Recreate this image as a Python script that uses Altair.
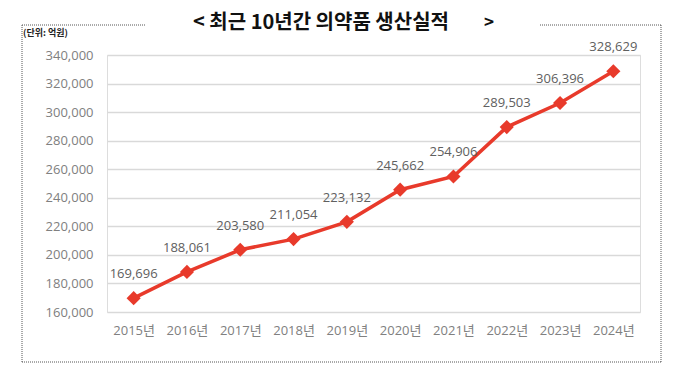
import altair as alt
import pandas as pd

years = ["2015년", "2016년", "2017년", "2018년", "2019년", "2020년", "2021년", "2022년", "2023년", "2024년"]
values = [169696, 188061, 203580, 211054, 223132, 245662, 254906, 289503, 306396, 328629]
y_ticks = [160000, 180000, 200000, 220000, 240000, 260000, 280000, 300000, 320000, 340000]
title_text = "< 최근 10년간 의약품 생산실적"
title_end = ">"
unit_text = "(단위: 억원)"

df = pd.DataFrame({"year": years, "value": values})
df["label"] = df["value"].map(lambda v: f"{v:,}")

FONT = "Noto Sans CJK KR"
NUMFONT = "Open Sans, Noto Sans CJK KR"

x = alt.X("year:N", sort=years, title=None,
          scale=alt.Scale(type="point", padding=0.5),
          axis=alt.Axis(labelAngle=0, domain=False, ticks=False, grid=False,
                        labelFont=NUMFONT, labelFontSize=13, labelColor="#808080",
                        labelPadding=12))
y = alt.Y("value:Q", title=None,
          scale=alt.Scale(domain=[160000, 340000], nice=False, zero=False),
          axis=alt.Axis(values=y_ticks, format=",.0f", domain=False, ticks=False,
                        gridColor="#d9d9d9", gridWidth=1.5,
                        labelFont=NUMFONT, labelFontSize=13, labelColor="#808080",
                        labelPadding=14))

base = alt.Chart(df)
line = base.mark_line(color="#e83a2b", strokeWidth=3.5).encode(x=x, y=y)
pts = base.mark_point(shape="diamond", filled=True, size=200, color="#e83a2b", opacity=1).encode(x=x, y=y)
labels = base.mark_text(dy=-24, font=NUMFONT, fontSize=13, color="#606060").encode(x=x, y=y, text="label:N")

deco = pd.DataFrame({"d": [0]})
dash = [1, 1]
bc = "#555555"
b_left = alt.Chart(deco).mark_rule(strokeDash=dash, color=bc, strokeWidth=1).encode(
    x=alt.value(-85), y=alt.value(-30), y2=alt.value(307))
b_right = alt.Chart(deco).mark_rule(strokeDash=dash, color=bc, strokeWidth=1).encode(
    x=alt.value(554), y=alt.value(-30), y2=alt.value(307))
b_bottom = alt.Chart(deco).mark_rule(strokeDash=dash, color=bc, strokeWidth=1).encode(
    x=alt.value(-85), x2=alt.value(554), y=alt.value(307))
b_top1 = alt.Chart(deco).mark_rule(strokeDash=dash, color=bc, strokeWidth=1).encode(
    x=alt.value(-85), x2=alt.value(38), y=alt.value(-30))
b_top2 = alt.Chart(deco).mark_rule(strokeDash=dash, color=bc, strokeWidth=1).encode(
    x=alt.value(433), x2=alt.value(554), y=alt.value(-30))

t1 = alt.Chart(deco).mark_text(text=title_text, align="left", baseline="middle",
                               font=FONT, fontSize=20, fontWeight="bold",
                               color="#111111").encode(
    x=alt.value(86), y=alt.value(-32))
t2 = alt.Chart(deco).mark_text(text=title_end, align="left", baseline="middle",
                               font=FONT, fontSize=17, fontWeight="bold", color="#111111").encode(
    x=alt.value(377), y=alt.value(-32))
unit = alt.Chart(deco).mark_text(text=unit_text, align="left", baseline="middle",
                                 font=FONT, fontSize=9, fontWeight="bold", color="#222222").encode(
    x=alt.value(-84), y=alt.value(-22))

chart = alt.layer(line, pts, labels, b_left, b_right, b_bottom, b_top1, b_top2, t1, t2, unit).properties(
    width=533, height=257,
    autosize=alt.AutoSizeParams(type="none"),
    padding={"left": 99, "top": 47, "right": 50, "bottom": 55},
).configure_view(stroke=None).configure(background="white")

chart.save("out.html", embed_options={"renderer": "svg", "actions": False})
